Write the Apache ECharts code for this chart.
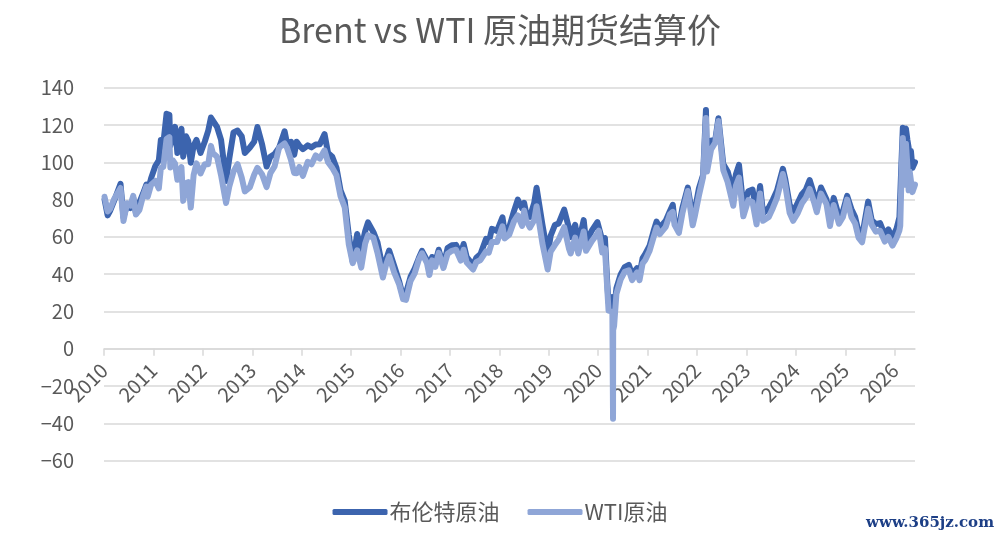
<!DOCTYPE html>
<html>
<head>
<meta charset="utf-8">
<script src="https://cdn.jsdelivr.net/npm/echarts@6/dist/echarts.min.js"></script>
<style>
html,body{margin:0;padding:0;background:#fff;}
#chart{width:1000px;height:540px;}
</style>
</head>
<body>
<div id="chart"></div>
<script>
const titleText = 'Brent vs WTI 原油期货结算价';
const seriesNames = ['布伦特原油', 'WTI原油'];
const yearTicks = [2010,2011,2012,2013,2014,2015,2016,2017,2018,2019,2020,2021,2022,2023,2024,2025,2026];

const dates = [
'2010-01-05','2010-01-28','2010-02-15','2010-03-15','2010-05-03','2010-05-25','2010-06-20','2010-07-15','2010-08-05','2010-08-25','2010-09-20','2010-10-15','2010-11-10','2010-11-20','2010-12-15',
'2011-01-15','2011-02-10','2011-02-25','2011-03-15','2011-04-08','2011-04-29','2011-05-06','2011-05-25','2011-06-10','2011-06-27','2011-07-27','2011-08-09','2011-08-30','2011-09-15','2011-10-04','2011-10-25','2011-11-15','2011-12-15',
'2012-01-15','2012-02-10','2012-03-01','2012-03-15','2012-04-15','2012-05-15','2012-06-21','2012-07-15','2012-08-15','2012-09-14','2012-10-15','2012-11-07','2012-12-15',
'2013-01-15','2013-02-08','2013-03-15','2013-04-17','2013-05-15','2013-06-15','2013-07-19','2013-08-28','2013-09-15','2013-10-15','2013-11-07','2013-11-25','2013-12-15',
'2014-01-10','2014-02-15','2014-03-15','2014-04-15','2014-05-15','2014-06-19','2014-07-15','2014-08-15','2014-09-15','2014-10-15','2014-11-15','2014-12-15',
'2015-01-13','2015-02-15','2015-03-17','2015-04-15','2015-05-06','2015-06-15','2015-07-15','2015-08-24','2015-09-15','2015-10-09','2015-11-15','2015-12-21',
'2016-01-20','2016-02-11','2016-03-15','2016-04-15','2016-05-15','2016-06-08','2016-07-15','2016-08-02','2016-08-22','2016-09-15','2016-10-10','2016-11-14','2016-12-15',
'2017-01-15','2017-02-15','2017-03-22','2017-04-12','2017-05-05','2017-06-21','2017-07-15','2017-08-15','2017-09-25','2017-10-15','2017-11-07','2017-12-15',
'2018-01-24','2018-02-09','2018-03-15','2018-04-19','2018-05-17','2018-06-18','2018-07-03','2018-07-18','2018-08-15','2018-09-15','2018-10-03','2018-11-15','2018-12-24',
'2019-01-15','2019-02-15','2019-03-15','2019-04-25','2019-05-31','2019-06-12','2019-07-15','2019-08-07','2019-09-16','2019-10-03','2019-11-15','2019-12-26',
'2020-01-06','2020-01-31','2020-02-20','2020-03-09','2020-03-18','2020-03-31','2020-04-15','2020-04-20','2020-04-21','2020-04-28','2020-05-15','2020-06-15','2020-07-15','2020-08-15','2020-09-08','2020-10-15','2020-11-02','2020-11-25','2020-12-15',
'2021-01-15','2021-02-15','2021-03-08','2021-04-01','2021-05-15','2021-06-15','2021-07-06','2021-07-19','2021-08-20','2021-09-15','2021-10-25','2021-11-30','2021-12-15',
'2022-01-15','2022-02-15','2022-03-08','2022-03-16','2022-04-15','2022-05-15','2022-06-08','2022-07-14','2022-08-15','2022-09-26','2022-10-15','2022-11-07','2022-12-09',
'2023-01-15','2023-02-15','2023-03-17','2023-04-12','2023-05-04','2023-06-15','2023-07-15','2023-08-15','2023-09-27','2023-10-15','2023-11-16','2023-12-12',
'2024-01-15','2024-02-15','2024-03-15','2024-04-12','2024-05-15','2024-06-04','2024-07-05','2024-08-15','2024-09-10','2024-10-07','2024-11-15','2024-12-15',
'2025-01-15','2025-02-15','2025-03-15','2025-04-09','2025-05-05','2025-06-19','2025-07-15','2025-08-15','2025-09-15','2025-10-20','2025-11-15','2025-12-16',
'2026-01-15','2026-02-05','2026-02-11','2026-02-20','2026-03-02','2026-03-10','2026-03-17','2026-03-25','2026-04-05','2026-04-14','2026-04-22','2026-05-01','2026-05-12','2026-05-31'
];

const brent = [
80.1,71.5,74,79,88.5,70.5,77,75.5,81,72.5,78.5,83,88,84.5,91.5,
98,101,112,110,126,125.5,109,115,119,105,118,103,114,111.5,99.8,109,112,105,
111,117,124,123,119,112,90,102,116,117,114,105,108,
111,118.9,109.5,97.7,103,104.5,108,116.6,110,111,104,111,109,
107,109.1,108,109.5,109.7,115.1,105,103,97,85,79.3,61.1,
46.6,61.5,53.5,63,67.8,62.5,57,42.7,47.5,52.7,44.5,36.4,
27.9,30,38.5,43,48.5,52.5,47.5,41.8,49.2,46.5,53.1,44.4,54,
55.5,55.7,50.6,56.2,49.1,44.8,48.8,50.8,59,57.2,64.3,63.2,
70.5,62.8,65.1,73.8,80,75.3,78.2,72.9,70.8,78.1,86.3,66.6,50.5,
60.6,66.3,67.2,74.6,64.5,59.9,66.5,56.2,69,57.7,63.3,67.9,
68.9,58.2,59.3,34.4,24.9,22.7,27.7,25.6,19.3,20.5,32.5,39.7,43.8,45,39.8,43.2,39.7,48.6,50.8,
55.1,63.3,68.2,64.9,68.7,73.9,77.2,68.6,65.2,75.5,86.4,70.6,73.9,
86,93.3,128,98,111.7,111.6,123.6,99.1,95.1,84.1,93.5,98.6,76.1,
84.5,85.4,73,87.3,72.5,75.7,79.9,84.9,96.5,90.9,77.4,73.2,
78.2,82.9,85.3,90.5,82.8,77.5,86.5,80,69.2,80.9,71,73.9,
82,75,70.6,62.8,60.2,78.9,69,66.8,67.4,61,64,59.5,
64.5,70.5,71.5,100,118.5,117,116,118,112,108,100,106,97,100
];

const wti = [
81.5,73.6,75,80,86.2,68.5,78,76.8,82,72,74.5,81.5,87,81.5,88,
90,86,97,97.5,112.5,113.5,97.2,101,99.3,90.6,97.4,79.3,88.8,89.4,75.7,93.2,99.4,94,
99,99,108.8,105,103,93,78.2,87,95,99,91.8,84.4,86.7,
93.3,97,93.5,86.7,94.2,97.8,108,110.1,107.7,101,94.2,94.1,97.5,
92.7,100.3,98.9,103.7,102,106.4,100,97,93,81.8,75.8,55.9,
45.9,52.8,43.5,56.4,60.9,59.5,51.4,38.2,44.6,49.6,41,34.7,
26.6,26.2,36.3,40.4,47.7,51.2,45.9,39.5,47.4,43.9,51.4,43.3,51,
52.5,53.1,47.3,53.1,46.2,42.5,46.4,47.6,52.2,51.5,57.2,57.3,
65.6,59.2,61.2,68.3,71.5,65.9,74.1,68.8,65,68.9,76.4,56.5,42.5,
52.1,55.6,58.5,65.2,53.5,51.1,59.6,51.1,62.9,52.5,57.7,61.7,
63.3,51.6,53.8,31.1,20.4,20.5,19.9,-37.6,10,12.3,29.4,37.1,41.2,42,36.8,40.9,36.8,45.7,47.6,
52.4,60,65,61.5,65.4,72.1,73.4,66.4,62.1,72.6,84.6,66.2,70.9,
82.1,92.1,123.7,95,106.9,110.5,122.1,95.8,89.4,76.7,87.4,91.8,71,
79.7,78.6,66.7,83.3,68.6,70.6,75.4,80.9,93.7,87.7,72.9,68.6,
72.7,78,81,85.7,78.6,73.3,83.2,77.5,65.8,77.1,67,70.7,
80,70.7,67.2,59.6,57.1,75.1,66.5,62.8,63.3,57.5,60,55.3,
59.5,63.5,66,92,113,106,88,110,98,85,95,90,84,88
];

function toYear(s){
  const p = s.split('-').map(Number);
  const t = Date.UTC(p[0], p[1]-1, p[2]);
  const a = Date.UTC(p[0],0,1), b = Date.UTC(p[0]+1,0,1);
  return p[0] + (t-a)/(b-a);
}
const xs = dates.map(toYear);
const brentData = xs.map((x,i)=>[x, brent[i]]);
const wtiData = xs.map((x,i)=>[x, wti[i]]);
const xMax = xs[xs.length-1];

const gray = '#595959';
const gridColor = '#d9d9d9';
const font = '"Noto Sans CJK SC", "Noto Sans", sans-serif';

const yMin = -60, yMax = 140;
const gridTop = 87.7, gridBottom = 79.4, H = 540;
const plotH = H - gridTop - gridBottom;
const zeroOffset = -plotH * (0 - yMin) / (yMax - yMin);

const chart = echarts.init(document.getElementById('chart'), null, {renderer:'canvas'});
chart.setOption({
  animation: false,
  backgroundColor: '#ffffff',
  title: {
    text: titleText,
    left: 'center',
    top: 8,
    textStyle: {fontSize: 34, fontWeight: 'normal', color: gray, fontFamily: font}
  },
  legend: {
    data: seriesNames,
    top: 496,
    left: 'center',
    icon: 'roundRect',
    itemWidth: 55,
    itemHeight: 6,
    itemGap: 28,
    textStyle: {fontSize: 22, color: gray, fontFamily: font, padding: [0,0,0,-3]}
  },
  grid: {left: 104, right: 85, top: gridTop, bottom: gridBottom, containLabel: false},
  xAxis: {
    type: 'value',
    min: 2010,
    max: xMax,
    offset: zeroOffset,
    splitLine: {show: false},
    axisLine: {show: true, onZero: false, lineStyle: {color: gridColor, width: 1.5}},
    axisTick: {show: true, length: 7, customValues: yearTicks, lineStyle: {color: gridColor, width: 1.5}},
    axisLabel: {
      customValues: yearTicks,
      rotate: 45,
      margin: 18,
      fontSize: 20,
      color: gray,
      fontFamily: font,
      formatter: v => String(Math.round(v))
    }
  },
  yAxis: {
    type: 'value',
    min: yMin,
    max: yMax,
    interval: 20,
    axisLine: {show: false, onZero: false},
    axisTick: {show: false},
    axisLabel: {fontSize: 20, color: gray, margin: 30, fontFamily: font,
      formatter: v => v < 0 ? '\u2212' + Math.abs(v) : String(v)},
    splitLine: {show: true, lineStyle: {color: gridColor, width: 1.5}}
  },
  graphic: [{
    type: 'text',
    right: 6,
    bottom: 9,
    style: {text: 'www.365jz.com', fill: '#1d3f86', font: 'bold 15px "DejaVu Serif", serif'}
  }],
  series: [
    {
      name: seriesNames[0],
      type: 'line',
      data: brentData,
      symbol: 'none',
      showSymbol: false,
      color: '#3c64ae',
      lineStyle: {width: 6, color: '#3c64ae', cap: 'round', join: 'round'},
      emphasis: {disabled: true}
    },
    {
      name: seriesNames[1],
      type: 'line',
      data: wtiData,
      symbol: 'none',
      showSymbol: false,
      color: '#8fa6d7',
      lineStyle: {width: 6, color: '#8fa6d7', cap: 'round', join: 'round'},
      emphasis: {disabled: true}
    }
  ]
});
</script>
</body>
</html>
